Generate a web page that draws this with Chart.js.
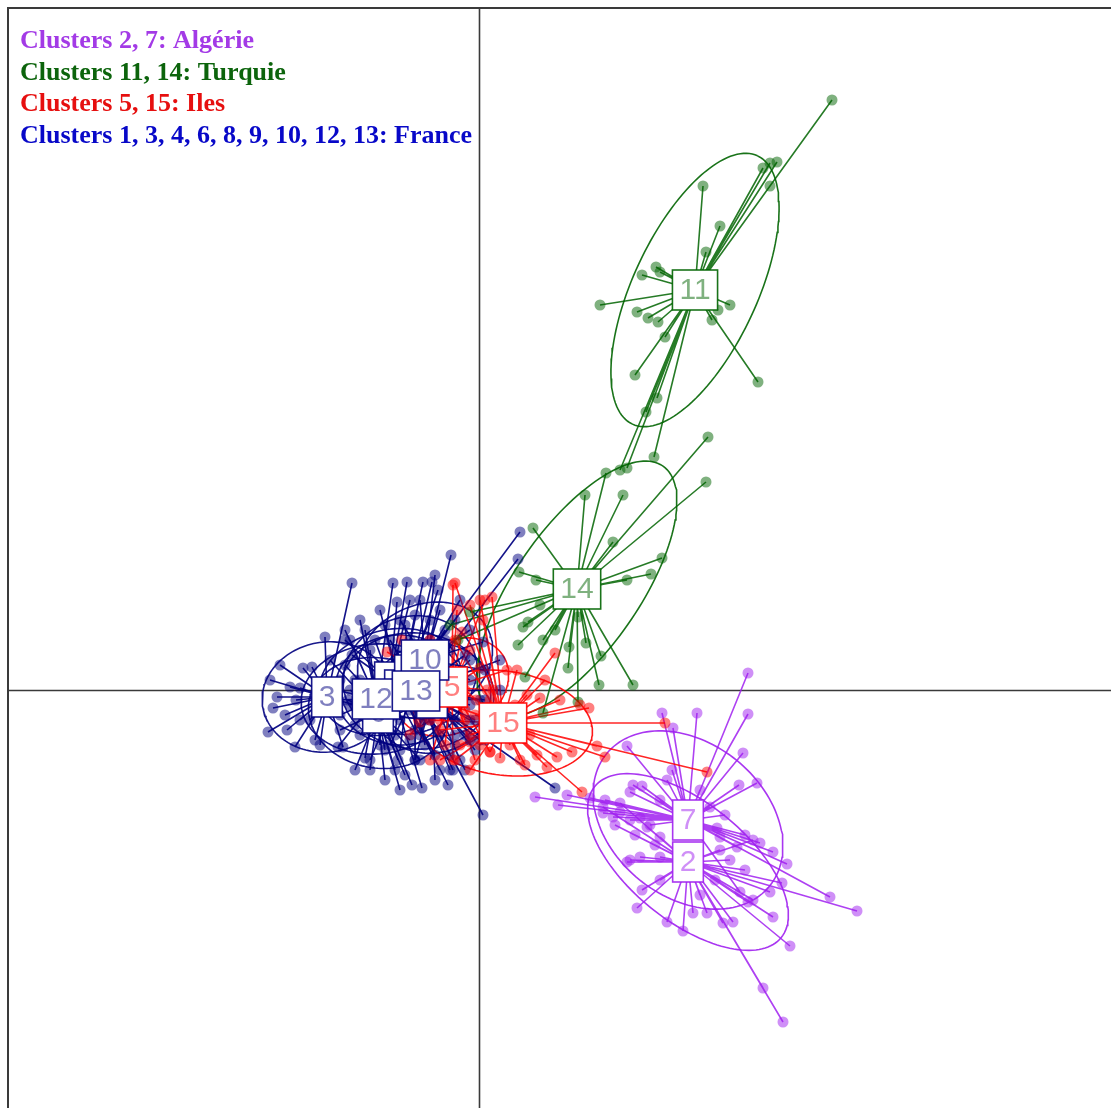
<!DOCTYPE html>
<html>
<head>
<meta charset="utf-8">
<script src="https://cdn.jsdelivr.net/npm/chart.js@4.4.0/dist/chart.umd.min.js"></script>
<style>
html, body { margin: 0; padding: 0; background: #fff; overflow: hidden; }
canvas { display: block; }
</style>
</head>
<body>
<canvas id="c" width="1111" height="1108"></canvas>
<script>
// Cluster numbers and the region each one belongs to
const clusterIds = [1, 2, 3, 4, 5, 6, 7, 8, 9, 10, 11, 12, 13, 14, 15];
// 0 = Algérie, 1 = Turquie, 2 = Iles, 3 = France
const clusterGroup = [3, 0, 3, 3, 2, 3, 0, 3, 3, 3, 1, 3, 3, 1, 2];

// Cluster centres (discriminant axes 1 and 2)
const centroidX = [-0.89, 2.09, -1.52, -0.47, -0.27, -1.01, 2.09, -0.79, -0.69, -0.54, 2.16, -1.03, -0.63, 0.98, 0.24];
const centroidY = [0.08, -1.72, -0.07, -0.08, 0.03, -0.23, -1.30, 0.00, 0.15, 0.30, 4.00, -0.09, -0.01, 1.01, -0.33];

// Inertia ellipses: semi-axes and tilt (degrees)
const ellA = [0.72, 1.20, 0.65, 0.62, 0.60, 0.70, 1.05, 0.65, 0.68, 0.70, 1.48, 0.75, 0.75, 1.50, 0.90];
const ellB = [0.52, 0.59, 0.55, 0.55, 0.45, 0.55, 0.77, 0.55, 0.58, 0.55, 0.62, 0.55, 0.58, 0.62, 0.52];
const ellAngle = [15, -39, 8, 10, 30, -10, -39, 0, 20, 25, 65, 5, -5, 55, -8];

// Individual coordinates per cluster
const pts1 = [[-0.72,1.08],[-0.82,0.88],[-1.04,0.50],[-1.27,0.35],[-0.49,0.50],[-0.57,-0.98],[-1.19,-0.22],[-0.64,-0.40],[-0.39,-0.10],[-0.99,-0.30],[-1.14,0.00],[-0.49,-0.10],[-0.24,-0.55],[-0.79,-0.30],[-1.34,0.50],[-0.69,0.90]];
const pts2 = [[1.24,-1.17],[1.41,-1.13],[1.68,-1.37],[1.81,-1.47],[1.51,-1.70],[1.61,-1.67],[1.81,-1.67],[1.58,-2.18],[1.63,-2.00],[1.88,-2.32],[2.04,-2.41],[2.14,-2.23],[2.28,-2.23],[2.44,-2.33],[2.54,-2.32],[2.74,-2.10],[2.94,-2.27],[3.11,-2.56],[3.78,-2.21],[2.84,-2.98],[3.04,-3.32],[3.03,-1.93],[2.91,-2.02],[2.69,-2.12],[2.74,-1.50],[2.41,-1.60],[1.48,-1.72],[1.36,-1.35],[1.56,-1.45],[1.76,-1.55],[2.51,-1.70],[2.66,-1.80],[2.36,-1.90],[1.81,-1.90],[2.21,-2.05]];
const pts3 = [[-1.76,0.22],[-1.67,0.23],[-2.09,0.10],[-1.89,0.03],[-2.06,-0.18],[-2.11,-0.42],[-1.92,-0.40],[-1.84,-0.57],[-2.02,-0.07],[-1.79,0.02],[-1.94,-0.25],[-1.54,0.53],[-1.27,1.07],[-1.59,-0.55],[-1.36,-0.57],[-1.69,-0.30],[-1.83,-0.10],[-1.99,0.25],[-1.79,-0.30],[-1.64,-0.50],[-1.39,0.10],[-1.24,-0.15]];
const pts4 = [[-0.14,-0.80],[-0.44,-0.90],[-0.04,-0.60],[0.01,-0.10],[-0.09,0.30],[-0.34,0.50],[-0.84,-0.25],[-0.64,-0.70],[-0.24,-0.45],[-0.59,0.40],[-0.19,-0.70],[-0.39,0.00],[-0.09,-0.30],[0.06,-0.50],[-0.59,-0.45]];
const pts5 = [[-0.26,1.05],[-0.22,0.80],[-0.92,0.38],[-0.77,0.50],[-0.09,0.40],[0.01,0.22],[0.28,0.20],[-0.69,-0.45],[-0.49,-0.70],[-0.26,-0.70],[-0.09,-0.52],[-0.84,-0.10],[-0.14,-0.30],[-0.03,-0.10],[-0.59,-0.32],[-0.34,-0.55],[0.08,0.00],[-0.74,0.28],[0.11,-0.62],[-0.17,0.58],[-0.49,0.50],[-0.19,-0.10],[-0.59,-0.10],[-0.39,-0.30],[-0.04,-0.70],[0.06,0.90]];
const pts6 = [[-0.79,-1.00],[-1.19,-0.45],[-1.31,-0.10],[-0.84,-0.80],[-0.59,-0.70],[-1.24,-0.80],[-1.49,0.30],[-1.14,0.60],[-0.69,-0.50],[-0.94,-0.60],[-0.54,-0.30],[-1.39,-0.40],[-1.09,-0.80],[-0.74,-0.85],[-1.29,0.00]];
const pts7 = [[2.69,0.17],[1.83,-0.23],[2.18,-0.23],[2.69,-0.24],[1.94,-0.38],[1.48,-0.56],[2.64,-0.63],[1.93,-0.80],[1.88,-0.90],[2.60,-0.95],[2.78,-0.93],[1.54,-0.95],[1.63,-0.96],[0.56,-1.07],[0.79,-1.15],[0.88,-1.05],[1.11,-1.08],[1.51,-1.02],[2.31,-1.17],[2.38,-1.38],[2.94,-1.62],[3.08,-1.74],[3.51,-2.07],[2.41,-1.47],[2.58,-1.57],[1.24,-1.23],[1.34,-1.27],[1.51,-1.30],[2.61,-2.02],[1.81,-1.10],[1.41,-1.22],[1.61,-1.28],[1.71,-1.35],[1.26,-1.10],[2.46,-1.25],[2.66,-1.45],[2.81,-1.53],[2.21,-1.00]];
const pts8 = [[-0.56,1.08],[-0.94,0.65],[-0.64,0.75],[-0.31,-0.95],[-0.44,-0.65],[-1.09,-0.70],[-0.24,-0.30],[-1.29,-0.15],[-0.59,0.30],[-0.84,-0.45],[-0.99,0.80],[-0.49,0.70],[-0.24,-0.10],[-0.39,-0.80],[-0.69,-0.20]];
const pts9 = [[-0.47,1.08],[-0.41,1.00],[-0.24,0.70],[-0.74,0.65],[-0.29,-0.80],[-0.09,-0.50],[-1.19,0.10],[-0.39,0.25],[-0.94,-0.15],[-0.54,-0.55],[-0.89,0.50],[-0.29,0.40],[-0.14,-0.45],[-0.44,-0.10],[-0.79,-0.60]];
const pts10 = [[-0.28,1.35],[-0.19,0.90],[-0.39,0.80],[-0.79,0.70],[0.41,1.58],[0.04,0.48],[-0.09,0.60],[-0.99,0.25],[-0.19,-0.10],[-0.74,-0.10],[-0.09,0.10],[-0.49,-0.30],[-0.44,1.15],[-0.59,0.90],[-0.34,0.60],[-0.84,0.40],[0.06,0.20]];
const pts11 = [[3.53,5.90],[2.98,5.28],[2.91,5.27],[2.84,5.22],[2.91,5.04],[2.24,5.04],[2.41,4.64],[2.27,4.38],[1.77,4.23],[1.63,4.15],[1.21,3.85],[1.58,3.78],[1.69,3.72],[1.79,3.68],[1.86,3.53],[2.51,3.85],[2.39,3.80],[2.33,3.70],[1.56,3.15],[2.79,3.08],[1.78,2.92],[1.67,2.78],[1.75,2.33],[1.41,2.20],[1.48,2.22],[1.81,4.18]];
const pts12 = [[-1.14,-0.68],[-1.41,-0.57],[-1.34,0.25],[-1.29,0.50],[-0.86,1.07],[-1.19,0.70],[-0.81,-0.70],[-0.99,-0.55],[-1.39,-0.25],[-1.24,0.10],[-0.67,-0.95],[-1.09,0.40],[-1.44,0.00],[-1.49,-0.10],[-1.24,-0.35],[-0.89,-0.10],[-1.34,0.60],[-0.94,-0.90]];
const pts13 = [[0.04,-1.25],[-0.26,-0.80],[0.39,1.31],[-0.14,0.35],[-0.39,-0.45],[-0.89,-0.55],[-1.04,-0.15],[-0.69,0.50],[-0.19,0.00],[-0.04,-0.30],[0.21,0.00],[0.06,-0.10],[0.76,-0.98],[0.01,-0.50],[-0.29,-0.65],[-0.49,0.10],[-0.09,-0.15],[0.21,0.30],[-0.64,-0.70]];
const pts14 = [[2.29,2.53],[2.27,2.08],[1.27,2.17],[1.06,1.95],[1.44,1.95],[0.54,1.62],[1.34,1.48],[1.83,1.32],[1.72,1.16],[1.48,1.10],[0.40,1.18],[0.57,1.10],[0.44,0.63],[0.49,0.68],[0.39,0.45],[0.64,0.50],[0.90,0.43],[1.07,0.47],[1.22,0.34],[0.89,0.22],[0.99,0.73],[1.20,0.05],[1.54,0.05],[0.46,0.13],[0.64,-0.23],[0.99,-0.12],[-0.29,0.65],[-0.21,0.50],[-0.09,0.78],[0.61,0.85],[0.76,0.60]];
const pts15 = [[0.76,0.37],[0.38,0.20],[0.48,-0.05],[0.61,-0.08],[1.01,-0.15],[1.10,-0.18],[1.86,-0.33],[2.28,-0.82],[1.18,-0.56],[1.26,-0.67],[1.03,-1.02],[0.93,-0.62],[0.78,-0.67],[0.68,-0.77],[0.21,-0.68],[0.11,-0.62],[-0.24,1.07],[0.01,0.90],[0.13,0.93],[0.04,0.70],[-0.09,-0.45],[-0.19,-0.55],[-0.39,-0.70],[-0.49,-0.30],[-0.29,-0.15],[-0.14,0.00],[0.41,-0.70],[0.31,-0.55],[0.51,-0.45],[-0.04,-0.25],[-0.09,-0.80],[0.36,-0.15],[0.14,0.00],[-0.14,-0.20],[0.01,-0.55],[-0.24,-0.70],[0.11,-0.10],[-0.39,-0.40],[0.46,-0.75],[0.58,-0.65],[0.81,-0.10],[0.66,0.10],[-0.24,0.50],[-0.09,0.85]];

// Legend lines and colours
const legendLabels = [
  'Clusters 2, 7: Algérie',
  'Clusters 11, 14: Turquie',
  'Clusters 5, 15: Iles',
  'Clusters 1, 3, 4, 6, 8, 9, 10, 12, 13: France'
];
const legendColors = ['#a33ae6', '#0c640c', '#e60f0f', '#0808c8'];
const groupRGB = ['160,32,240', '0,100,0', '255,0,0', '0,0,128'];
const starAlpha = [0.85, 0.85, 0.85, 0.92];

// Visible window of the factorial plane
const xMin = -4.71, xMax = 6.32, yMin = -4.18, yMax = 6.82;

const allPts = [pts1, pts2, pts3, pts4, pts5, pts6, pts7, pts8, pts9, pts10, pts11, pts12, pts13, pts14, pts15];
const rgba = (g, a) => `rgba(${groupRGB[g]},${a})`;

const ellipseSets = [], starSets = [], pointSets = [];
clusterIds.forEach((id, i) => {
  const g = clusterGroup[i];
  const cx = centroidX[i], cy = centroidY[i];
  const th = ellAngle[i] * Math.PI / 180;
  const ring = [];
  for (let k = 0; k <= 140; k++) {
    const t = 2 * Math.PI * k / 140;
    ring.push({
      x: cx + ellA[i] * Math.cos(th) * Math.cos(t) - ellB[i] * Math.sin(th) * Math.sin(t),
      y: cy + ellA[i] * Math.sin(th) * Math.cos(t) + ellB[i] * Math.cos(th) * Math.sin(t)
    });
  }
  ellipseSets.push({ data: ring, showLine: true, borderColor: rgba(g, 0.9), borderWidth: 1.6,
    pointRadius: 0, pointHoverRadius: 0, fill: false });

  const star = [];
  allPts[i].forEach(p => star.push({ x: cx, y: cy }, { x: p[0], y: p[1] }, { x: null, y: null }));
  starSets.push({ data: star, showLine: true, spanGaps: false, borderColor: rgba(g, starAlpha[g]), borderWidth: 1.6,
    pointRadius: 0, pointHoverRadius: 0, fill: false });

  pointSets.push({ data: allPts[i].map(p => ({ x: p[0], y: p[1] })), backgroundColor: rgba(g, 0.5),
    borderWidth: 0, pointRadius: 5.5, pointHoverRadius: 5.5 });
});

// paint order: ellipses, then stars, then individuals
const layers = [...ellipseSets, ...starSets, ...pointSets];
const datasets = layers.map((d, k) => Object.assign({}, d, { order: layers.length - k }));

const framePlugin = {
  id: 'frame',
  beforeDatasetsDraw(chart) {
    const { ctx, chartArea: a, scales: { x, y } } = chart;
    ctx.save();
    ctx.strokeStyle = '#3a3a3a';
    ctx.lineWidth = 2;
    ctx.beginPath();
    ctx.moveTo(a.left, a.bottom); ctx.lineTo(a.left, a.top); ctx.lineTo(a.right, a.top);
    ctx.stroke();
    ctx.lineWidth = 1.6;
    ctx.beginPath();
    const x0 = Math.round(x.getPixelForValue(0)) + 0.5;
    const y0 = Math.round(y.getPixelForValue(0)) + 0.5;
    ctx.moveTo(x0, a.top); ctx.lineTo(x0, a.bottom);
    ctx.moveTo(a.left, y0); ctx.lineTo(a.right, y0);
    ctx.stroke();
    ctx.restore();
  }
};

const labelPlugin = {
  id: 'clusterLabels',
  afterDatasetsDraw(chart) {
    const { ctx, scales: { x, y } } = chart;
    ctx.save();
    ctx.font = '30px "Liberation Sans", Arial, sans-serif';
    ctx.textAlign = 'center';
    ctx.textBaseline = 'middle';
    clusterIds.forEach((id, i) => {
      const g = clusterGroup[i];
      const px = x.getPixelForValue(centroidX[i]);
      const py = y.getPixelForValue(centroidY[i]);
      const txt = String(id);
      const w = ctx.measureText(txt).width + 14;
      const h = 40;
      ctx.fillStyle = '#ffffff';
      ctx.fillRect(px - w / 2, py - h / 2, w, h);
      ctx.strokeStyle = rgba(g, 0.9);
      ctx.lineWidth = 1.6;
      ctx.strokeRect(px - w / 2, py - h / 2, w, h);
      ctx.fillStyle = rgba(g, 0.5);
      ctx.fillText(txt, px, py + 1);
    });
    ctx.restore();
  },
  afterDraw(chart) {
    const { ctx } = chart;
    ctx.save();
    ctx.font = 'bold 26px "Liberation Serif", "Times New Roman", serif';
    ctx.textAlign = 'left';
    ctx.textBaseline = 'alphabetic';
    legendLabels.forEach((t, k) => {
      ctx.fillStyle = legendColors[k];
      ctx.fillText(t, 20, 48 + k * 31.7);
    });
    ctx.restore();
  }
};

new Chart(document.getElementById('c'), {
  type: 'scatter',
  data: { datasets },
  options: {
    responsive: false,
    animation: false,
    events: [],
    layout: { autoPadding: false, padding: { left: 8, top: 8, right: 0, bottom: 0 } },
    plugins: { legend: { display: false }, tooltip: { enabled: false } },
    scales: {
      x: { type: 'linear', min: xMin, max: xMax, display: false },
      y: { type: 'linear', min: yMin, max: yMax, display: false }
    }
  },
  plugins: [framePlugin, labelPlugin]
});
</script>
</body>
</html>
